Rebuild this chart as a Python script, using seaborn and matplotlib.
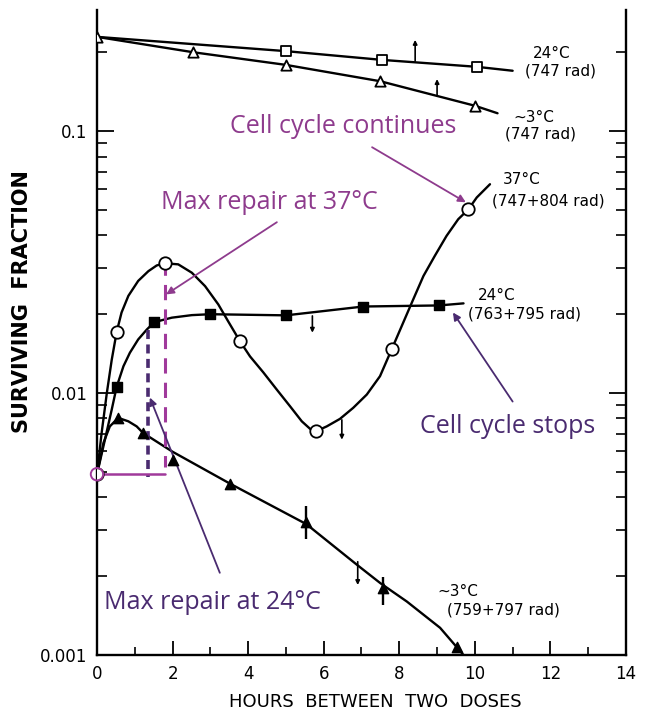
import matplotlib
matplotlib.use("Agg")
import matplotlib.pyplot as plt
import seaborn as sns

# ---------------- data ----------------
# 24 C, single dose 747 rad (open squares)
sq_open_x = [5.0, 7.55, 10.05]
sq_open_y = [0.202, 0.187, 0.176]
sq_open_curve_x = [0, 5.0, 7.55, 10.05, 11.0]
sq_open_curve_y = [0.229, 0.202, 0.187, 0.176, 0.170]

# ~3 C, single dose 747 rad (open triangles)
tri_open_x = [0, 2.55, 5.0, 7.5, 10.0]
tri_open_y = [0.229, 0.200, 0.179, 0.155, 0.125]
tri_open_curve_x = [0, 2.55, 5.0, 7.5, 10.0, 10.6]
tri_open_curve_y = [0.229, 0.200, 0.179, 0.155, 0.125, 0.117]

# 37 C, 747+804 rad (open circles)
circ_x = [0, 0.52, 1.80, 3.78, 5.79, 7.80, 9.83]
circ_y = [0.0049, 0.0171, 0.0313, 0.0158, 0.00714, 0.0147, 0.0503]
circ_curve_x = [0, 0.12, 0.26, 0.39, 0.52, 0.65, 0.83, 1.09, 1.36, 1.58, 1.80,
                2.15, 2.51, 2.86, 3.21, 3.47, 3.78, 4.05, 4.40, 4.76, 5.11,
                5.42, 5.64, 5.79, 6.08, 6.43, 6.78, 7.14, 7.49, 7.80,
                8.37, 8.64, 8.94, 9.25, 9.56, 9.83, 10.05, 10.40]
circ_curve_y = [0.0049, 0.0070, 0.0100, 0.0134, 0.0171, 0.0203, 0.0235,
                0.0268, 0.0292, 0.0307, 0.0313, 0.0310, 0.0288, 0.0256,
                0.0218, 0.0188, 0.0158, 0.0138, 0.0120, 0.0103, 0.0089,
                0.0078, 0.0073, 0.00714, 0.00746, 0.00797, 0.00878, 0.00987,
                0.0116, 0.0147, 0.0228, 0.0280, 0.0334,
                0.0398, 0.0461, 0.0503, 0.0558, 0.0627]

# 24 C, 763+795 rad (filled squares)
sq_fill_x = [0.52, 1.52, 3.0, 5.0, 7.05, 9.05]
sq_fill_y = [0.01056, 0.01866, 0.0200, 0.0198, 0.0214, 0.0216]
sq_fill_curve_x = [0, 0.21, 0.39, 0.52, 0.70, 0.87, 1.09, 1.32, 1.52, 1.98,
                   2.51, 3.0, 5.0, 7.05, 9.05, 9.7]
sq_fill_curve_y = [0.0049, 0.00664, 0.00865, 0.01056, 0.01266, 0.01425,
                   0.01602, 0.01749, 0.01866, 0.0194, 0.01984, 0.0200,
                   0.0198, 0.0214, 0.0216, 0.0220]

# ~3 C, 759+797 rad (filled triangles)
tri_fill_x = [0.56, 1.22, 2.0, 3.52, 5.54, 7.58, 9.54]
tri_fill_y = [0.00804, 0.00704, 0.00557, 0.00451, 0.00323, 0.00180, 0.00107]
tri_fill_curve_x = [0, 0.17, 0.34, 0.56, 0.83, 1.05, 1.22, 2.0, 3.52, 5.54,
                    6.88, 7.5, 8.2, 9.08, 9.7]
tri_fill_curve_y = [0.0049, 0.00645, 0.00746, 0.00804, 0.0078, 0.00746,
                    0.00704, 0.00597, 0.00451, 0.00316, 0.00221, 0.00188,
                    0.00160, 0.00127, 0.0010]

# error bars on the ~3 C (759+797 rad) curve
err_x = [5.54, 7.58]
err_lo = [0.00278, 0.00155]
err_hi = [0.00371, 0.00199]

# small vertical arrow marks on the curves (x, start, end)
mark_x = [8.42, 9.0, 5.7, 6.48, 6.9]
mark_from = [0.185, 0.136, 0.0197, 0.0079, 0.00227]
mark_to = [0.223, 0.158, 0.0170, 0.00664, 0.00185]

# repair guides
rep37_x = 1.80
rep37_top, rep37_bot = 0.0323, 0.0052
rep24_x = 1.35
rep24_top, rep24_bot = 0.0174, 0.0048
base_y = 0.0049
base_x_end = 1.8

yticks = [0.001, 0.01, 0.1]
ytick_labels = ["0.001", "0.01", "0.1"]
xticks = [0, 2, 4, 6, 8, 10, 12, 14]
xtick_labels = ["0", "2", "4", "6", "8", "10", "12", "14"]

MAG = "#8E3B8D"
MAG_LINE = "#A0399B"
DPUR = "#4A2B70"

# ---------------- figure ----------------
sns.set_style("ticks")
plt.rcParams["font.family"] = ["DejaVu Sans"]
for k in ("text.color", "axes.labelcolor", "xtick.color", "ytick.color", "axes.edgecolor"):
    plt.rcParams[k] = "black"

fig = plt.figure(figsize=(6.45, 7.14), dpi=100)
ax = fig.add_axes([97 / 645, 1 - 655 / 714, (626 - 97) / 645, (655 - 10) / 714])
ax.set_yscale("log")

lw = 1.7
for cx, cy in [(sq_open_curve_x, sq_open_curve_y),
               (tri_open_curve_x, tri_open_curve_y),
               (circ_curve_x, circ_curve_y),
               (sq_fill_curve_x, sq_fill_curve_y),
               (tri_fill_curve_x, tri_fill_curve_y)]:
    sns.lineplot(x=cx, y=cy, ax=ax, color="black", lw=lw, sort=False,
                 estimator=None, zorder=2)

ms = 55
sns.scatterplot(x=sq_open_x, y=sq_open_y, ax=ax, marker="s", s=ms,
                facecolor="white", edgecolor="black", linewidth=1.3, zorder=4)
sns.scatterplot(x=tri_open_x, y=tri_open_y, ax=ax, marker="^", s=ms,
                facecolor="white", edgecolor="black", linewidth=1.3, zorder=4)
sns.scatterplot(x=circ_x, y=circ_y, ax=ax, marker="o", s=80,
                facecolor="white", edgecolor="black", linewidth=1.3, zorder=4)
sns.scatterplot(x=sq_fill_x, y=sq_fill_y, ax=ax, marker="s", s=ms,
                color="black", edgecolor="black", linewidth=1, zorder=4)
sns.scatterplot(x=tri_fill_x, y=tri_fill_y, ax=ax, marker="^", s=ms,
                color="black", edgecolor="black", linewidth=1, zorder=4)

ax.vlines(err_x, err_lo, err_hi, color="black", lw=1.7, zorder=3)
for x, y0, y1 in zip(mark_x, mark_from, mark_to):
    ax.annotate("", xy=(x, y1), xytext=(x, y0),
                arrowprops=dict(arrowstyle="-|>", lw=1.2, color="black",
                                mutation_scale=6, shrinkA=0, shrinkB=0),
                zorder=3)

# repair guides
ax.plot([rep37_x, rep37_x], [rep37_top, rep37_bot], color=MAG_LINE, lw=2.2,
        dashes=(5, 3), zorder=3)
ax.plot([rep24_x, rep24_x], [rep24_top, rep24_bot], color=DPUR, lw=2.6,
        dashes=(2.5, 1.5), zorder=3)
ax.plot([0, base_x_end], [base_y, base_y], color=MAG_LINE, lw=1.8, zorder=3)
ax.scatter([0], [base_y], s=80, facecolor="none", edgecolor=MAG_LINE,
           linewidth=1.4, zorder=5, clip_on=False)

# axes
ax.set_xlim(0, 14)
ax.set_ylim(0.001, 0.29)
ax.set_xticks(xticks)
ax.set_xticklabels(xtick_labels)
ax.set_xticks(range(1, 14, 2), minor=True)
ax.set_yticks(yticks)
ax.set_yticklabels(ytick_labels)
minors = [m * 10.0 ** e for e in (-3, -2, -1) for m in range(2, 10) if m * 10.0 ** e < 0.29]
ax.set_yticks(minors, minor=True)
ax.set_yticklabels([], minor=True)
ax.set_xlabel("")
ax.set_ylabel("")

ax.spines["top"].set_visible(False)
for s in ("left", "right", "bottom"):
    ax.spines[s].set_linewidth(1.7)
ax.tick_params(axis="x", which="major", direction="in", length=10, width=1.3,
               labelsize=12, pad=7, top=False)
ax.tick_params(axis="x", which="minor", direction="in", length=6, width=1.2, top=False)
ax.tick_params(axis="y", which="major", direction="in", length=12, width=1.3,
               labelsize=12, pad=7, left=True, right=True)
ax.tick_params(axis="y", which="minor", direction="in", length=7, width=1.2,
               left=True, right=True)

fig.text(22 / 645, 1 - 302 / 714, "SURVIVING  FRACTION", rotation=90,
         ha="center", va="center", fontsize=15, fontweight="bold")
fig.text(375 / 645, 1 - 702 / 714, "HOURS  BETWEEN  TWO  DOSES",
         ha="center", va="center", fontsize=13)

# curve labels
lab_kw = dict(fontsize=11, color="black", va="center", ha="left")
ax.text(11.54, 0.1987, "24°C", **lab_kw)
ax.text(11.33, 0.1696, "(747 rad)", **lab_kw)
ax.text(11.01, 0.1131, "~3°C", **lab_kw)
ax.text(10.80, 0.0974, "(747 rad)", **lab_kw)
ax.text(10.74, 0.0655, "37°C", **lab_kw)
ax.text(10.45, 0.0540, "(747+804 rad)", **lab_kw)
ax.text(10.08, 0.0236, "24°C", **lab_kw)
ax.text(9.82, 0.01996, "(763+795 rad)", **lab_kw)
ax.text(9.00, 0.00174, "~3°C", **lab_kw)
ax.text(9.26, 0.001486, "(759+797 rad)", **lab_kw)

# purple annotations
ann_kw = dict(fontsize=18, family=["Open Sans", "DejaVu Sans"], va="baseline", ha="left")
ax.text(3.52, 0.0983, "Cell cycle continues", color=MAG, **ann_kw)
ax.text(1.69, 0.0503, "Max repair at 37°C", color=MAG, **ann_kw)
ax.text(0.19, 0.00150, "Max repair at 24°C", color=DPUR, **ann_kw)
ax.text(8.55, 0.00706, "Cell cycle stops", color=DPUR, **ann_kw)

arr = dict(arrowstyle="-|>", lw=1.3, mutation_scale=11, shrinkA=0, shrinkB=0)
ax.annotate("", xy=(9.76, 0.0535), xytext=(7.28, 0.0868),
            arrowprops=dict(color=MAG, **arr))
ax.annotate("", xy=(1.83, 0.0238), xytext=(4.76, 0.0449),
            arrowprops=dict(color=MAG, **arr))
ax.annotate("", xy=(1.40, 0.00961), xytext=(3.25, 0.00206),
            arrowprops=dict(color=DPUR, **arr))
ax.annotate("", xy=(9.42, 0.0203), xytext=(11.0, 0.00928),
            arrowprops=dict(color=DPUR, **arr))

fig.savefig("out.png", dpi=100)
